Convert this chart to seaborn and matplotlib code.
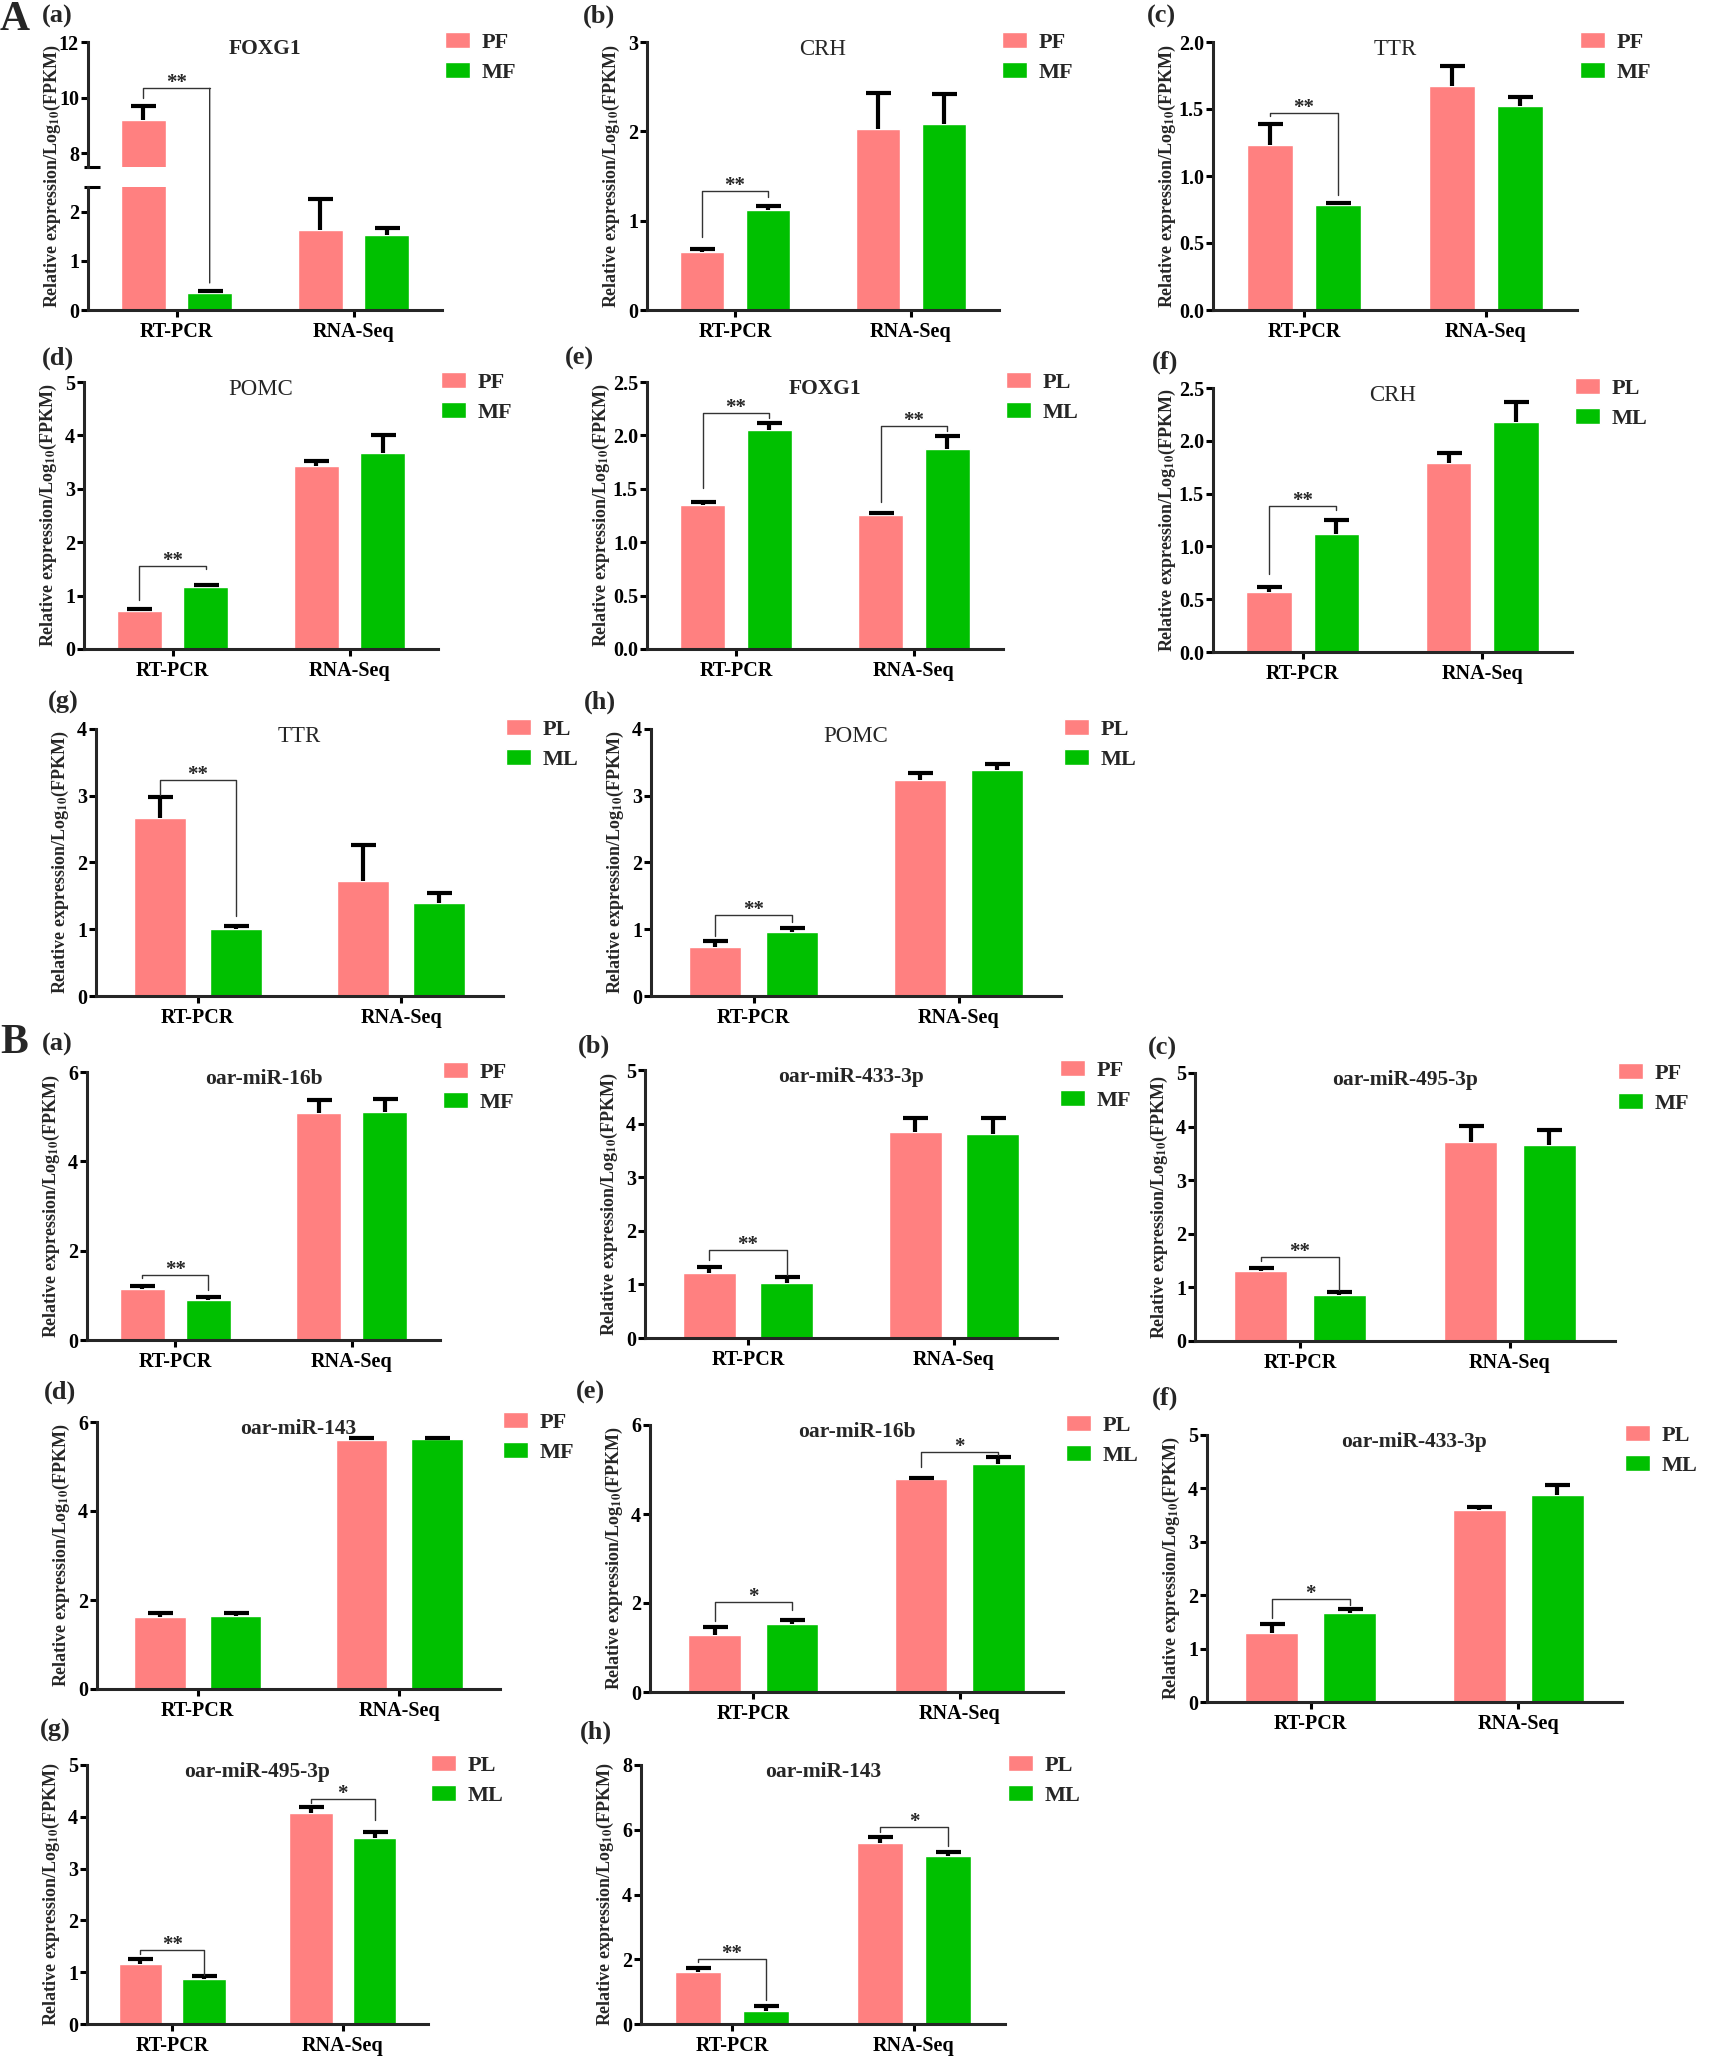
import matplotlib
matplotlib.use("Agg")
import matplotlib.pyplot as plt
from matplotlib.patches import Patch, ConnectionPatch
from matplotlib.ticker import FormatStrFormatter
from matplotlib.transforms import ScaledTranslation
import numpy as np
import pandas as pd
import seaborn as sns


# -------------------------------------------------------------------------------------------------------
# data: first = PF / PL, second = MF / ML, order = [RT-PCR, RNA-Seq]
# -------------------------------------------------------------------------------------------------------

groups = ["RT-PCR", "RNA-Seq"]
fat_labels = ["PF", "MF"]
liver_labels = ["PL", "ML"]

Aa_first = [9.20, 1.63]
Aa_first_sd = [0.50, 0.62]
Aa_second = [0.35, 1.52]
Aa_second_sd = [0.03, 0.15]
Aa_sig = [("RT-PCR", "**", 10.33, 10.0, 0.55)]

Ab_first = [0.65, 2.03]
Ab_first_sd = [0.03, 0.40]
Ab_second = [1.12, 2.08]
Ab_second_sd = [0.04, 0.34]
Ab_sig = [("RT-PCR", "**", 1.33, 0.82, 1.27)]

Ac_first = [1.23, 1.67]
Ac_first_sd = [0.16, 0.15]
Ac_second = [0.78, 1.52]
Ac_second_sd = [0.02, 0.07]
Ac_sig = [("RT-PCR", "**", 1.47, 1.45, 0.86)]

Ad_first = [0.72, 3.42]
Ad_first_sd = [0.02, 0.10]
Ad_second = [1.17, 3.67]
Ad_second_sd = [0.03, 0.33]
Ad_sig = [("RT-PCR", "**", 1.56, 0.92, 1.50)]

Ae_first = [1.35, 1.25]
Ae_first_sd = [0.03, 0.02]
Ae_second = [2.05, 1.87]
Ae_second_sd = [0.07, 0.12]
Ae_sig = [("RT-PCR", "**", 2.21, 1.51, 2.16), ("RNA-Seq", "**", 2.09, 1.38, 2.04)]

Af_first = [0.57, 1.79]
Af_first_sd = [0.05, 0.09]
Af_second = [1.12, 2.18]
Af_second_sd = [0.13, 0.19]
Af_sig = [("RT-PCR", "**", 1.38, 0.74, 1.34)]

Ag_first = [2.66, 1.73]
Ag_first_sd = [0.32, 0.53]
Ag_second = [1.01, 1.39]
Ag_second_sd = [0.04, 0.16]
Ag_sig = [("RT-PCR", "**", 3.23, 3.01, 1.20)]

Ah_first = [0.73, 3.23]
Ah_first_sd = [0.09, 0.11]
Ah_second = [0.96, 3.38]
Ah_second_sd = [0.06, 0.10]
Ah_sig = [("RT-PCR", "**", 1.22, 0.90, 1.11)]

Ba_first = [1.14, 5.08]
Ba_first_sd = [0.08, 0.29]
Ba_second = [0.89, 5.10]
Ba_second_sd = [0.07, 0.30]
Ba_sig = [("RT-PCR", "**", 1.46, 1.38, 1.12)]

Bb_first = [1.22, 3.84]
Bb_first_sd = [0.10, 0.26]
Bb_second = [1.03, 3.80]
Bb_second_sd = [0.11, 0.30]
Bb_sig = [("RT-PCR", "**", 1.64, 1.45, 1.17)]

Bc_first = [1.31, 3.72]
Bc_first_sd = [0.05, 0.29]
Bc_second = [0.85, 3.66]
Bc_second_sd = [0.07, 0.27]
Bc_sig = [("RT-PCR", "**", 1.575, 1.50, 0.95)]

Bd_first = [1.61, 5.59]
Bd_first_sd = [0.10, 0.05]
Bd_second = [1.645, 5.62]
Bd_second_sd = [0.055, 0.03]
Bd_sig = []

Be_first = [1.29, 4.78]
Be_first_sd = [0.16, 0.04]
Be_second = [1.53, 5.12]
Be_second_sd = [0.09, 0.17]
Be_sig = [("RT-PCR", "*", 2.03, 1.59, 1.85), ("RNA-Seq", "*", 5.40, 5.05, 5.33)]

Bf_first = [1.29, 3.60]
Bf_first_sd = [0.17, 0.05]
Bf_second = [1.665, 3.87]
Bf_second_sd = [0.07, 0.19]
Bf_sig = [("RT-PCR", "*", 1.93, 1.57, 1.82)]

Bg_first = [1.16, 4.07]
Bg_first_sd = [0.09, 0.11]
Bg_second = [0.87, 3.60]
Bg_second_sd = [0.05, 0.10]
Bg_sig = [("RT-PCR", "**", 1.42, 1.35, 0.95), ("RNA-Seq", "*", 4.34, 4.26, 3.94)]

Bh_first = [1.62, 5.58]
Bh_first_sd = [0.11, 0.21]
Bh_second = [0.41, 5.19]
Bh_second_sd = [0.15, 0.12]
Bh_sig = [("RT-PCR", "**", 2.00, 1.90, 0.74), ("RNA-Seq", "*", 6.10, 5.94, 5.50)]


panels = [
    dict(key="Aa", tag="(a)", title="FOXG1", bold=True, labels=fat_labels, first=Aa_first, first_sd=Aa_first_sd,
         second=Aa_second, second_sd=Aa_second_sd, sig=Aa_sig, ymax=2.5, ystep=1, fmt="%d"),
    dict(key="Ab", tag="(b)", title="CRH", bold=False, labels=fat_labels, first=Ab_first, first_sd=Ab_first_sd,
         second=Ab_second, second_sd=Ab_second_sd, sig=Ab_sig, ymax=3, ystep=1, fmt="%d"),
    dict(key="Ac", tag="(c)", title="TTR", bold=False, labels=fat_labels, first=Ac_first, first_sd=Ac_first_sd,
         second=Ac_second, second_sd=Ac_second_sd, sig=Ac_sig, ymax=2.0, ystep=0.5, fmt="%.1f"),
    dict(key="Ad", tag="(d)", title="POMC", bold=False, labels=fat_labels, first=Ad_first, first_sd=Ad_first_sd,
         second=Ad_second, second_sd=Ad_second_sd, sig=Ad_sig, ymax=5, ystep=1, fmt="%d"),
    dict(key="Ae", tag="(e)", title="FOXG1", bold=True, labels=liver_labels, first=Ae_first, first_sd=Ae_first_sd,
         second=Ae_second, second_sd=Ae_second_sd, sig=Ae_sig, ymax=2.5, ystep=0.5, fmt="%.1f"),
    dict(key="Af", tag="(f)", title="CRH", bold=False, labels=liver_labels, first=Af_first, first_sd=Af_first_sd,
         second=Af_second, second_sd=Af_second_sd, sig=Af_sig, ymax=2.5, ystep=0.5, fmt="%.1f"),
    dict(key="Ag", tag="(g)", title="TTR", bold=False, labels=liver_labels, first=Ag_first, first_sd=Ag_first_sd,
         second=Ag_second, second_sd=Ag_second_sd, sig=Ag_sig, ymax=4, ystep=1, fmt="%d"),
    dict(key="Ah", tag="(h)", title="POMC", bold=False, labels=liver_labels, first=Ah_first, first_sd=Ah_first_sd,
         second=Ah_second, second_sd=Ah_second_sd, sig=Ah_sig, ymax=4, ystep=1, fmt="%d"),
    dict(key="Ba", tag="(a)", title="oar-miR-16b", bold=True, labels=fat_labels, first=Ba_first, first_sd=Ba_first_sd,
         second=Ba_second, second_sd=Ba_second_sd, sig=Ba_sig, ymax=6, ystep=2, fmt="%d"),
    dict(key="Bb", tag="(b)", title="oar-miR-433-3p", bold=True, labels=fat_labels, first=Bb_first, first_sd=Bb_first_sd,
         second=Bb_second, second_sd=Bb_second_sd, sig=Bb_sig, ymax=5, ystep=1, fmt="%d"),
    dict(key="Bc", tag="(c)", title="oar-miR-495-3p", bold=True, labels=fat_labels, first=Bc_first, first_sd=Bc_first_sd,
         second=Bc_second, second_sd=Bc_second_sd, sig=Bc_sig, ymax=5, ystep=1, fmt="%d"),
    dict(key="Bd", tag="(d)", title="oar-miR-143", bold=True, labels=fat_labels, first=Bd_first, first_sd=Bd_first_sd,
         second=Bd_second, second_sd=Bd_second_sd, sig=Bd_sig, ymax=6, ystep=2, fmt="%d"),
    dict(key="Be", tag="(e)", title="oar-miR-16b", bold=True, labels=liver_labels, first=Be_first, first_sd=Be_first_sd,
         second=Be_second, second_sd=Be_second_sd, sig=Be_sig, ymax=6, ystep=2, fmt="%d"),
    dict(key="Bf", tag="(f)", title="oar-miR-433-3p", bold=True, labels=liver_labels, first=Bf_first, first_sd=Bf_first_sd,
         second=Bf_second, second_sd=Bf_second_sd, sig=Bf_sig, ymax=5, ystep=1, fmt="%d"),
    dict(key="Bg", tag="(g)", title="oar-miR-495-3p", bold=True, labels=liver_labels, first=Bg_first, first_sd=Bg_first_sd,
         second=Bg_second, second_sd=Bg_second_sd, sig=Bg_sig, ymax=5, ystep=1, fmt="%d"),
    dict(key="Bh", tag="(h)", title="oar-miR-143", bold=True, labels=liver_labels, first=Bh_first, first_sd=Bh_first_sd,
         second=Bh_second, second_sd=Bh_second_sd, sig=Bh_sig, ymax=8, ystep=2, fmt="%d"),
]

# axes boxes in pixels (left, top, right, bottom) and panel tag positions (left, centre y)
layout = {
    "Aa": (88, 42, 442, 310), "Ab": (647, 42, 999, 310), "Ac": (1213, 42, 1577, 310),
    "Ad": (84, 382, 438, 649), "Ae": (647, 382, 1003, 649), "Af": (1213, 388, 1572, 652),
    "Ag": (96, 729, 503, 996), "Ah": (651, 729, 1061, 996),
    "Ba": (87, 1072, 440, 1340), "Bb": (645, 1070, 1057, 1338), "Bc": (1195, 1073, 1615, 1341),
    "Bd": (97, 1422, 500, 1689), "Be": (650, 1425, 1063, 1692), "Bf": (1207, 1435, 1622, 1702),
    "Bg": (87, 1765, 428, 2024), "Bh": (641, 1765, 1005, 2024),
}
tag_pos = {
    "Aa": (42, 16), "Ab": (583, 16), "Ac": (1147, 16),
    "Ad": (42, 358), "Ae": (565, 358), "Af": (1152, 362),
    "Ag": (48, 702), "Ah": (584, 702),
    "Ba": (42, 1044), "Bb": (578, 1046), "Bc": (1148, 1048),
    "Bd": (44, 1392), "Be": (576, 1392), "Bf": (1152, 1398),
    "Bg": (40, 1730), "Bh": (580, 1732),
}

PINK = "#FF8080"
GREEN = "#00C000"
W, H = 1713, 2057

sns.set_style("ticks")
plt.rcParams["font.family"] = ["Liberation Serif", "DejaVu Serif"]
plt.rcParams["font.weight"] = "bold"
plt.rcParams["mathtext.fontset"] = "stix"
plt.rcParams["axes.linewidth"] = 2.2


def px_rect(l, t, r, b):
    return [l / W, 1 - b / H, (r - l) / W, (b - t) / H]


def bar_frame(p):
    rows = []
    for j, g in enumerate(groups):
        rows.append((g, p["labels"][0], p["first"][j], p["first_sd"][j]))
        rows.append((g, p["labels"][1], p["second"][j], p["second_sd"][j]))
    return pd.DataFrame(rows, columns=["group", "sample", "value", "sd"])


def draw_bars(ax, p):
    df = bar_frame(p)
    sns.barplot(data=df, x="group", y="value", hue="sample", order=groups, hue_order=p["labels"],
                palette=[PINK, GREEN], saturation=1, width=0.75, gap=0.32, errorbar=None,
                legend=False, ax=ax)
    centers = {}
    for lab, cont in zip(p["labels"], ax.containers):
        for g, bar in zip(groups, cont):
            centers[(g, lab)] = bar.get_x() + bar.get_width() / 2
    for _, r in df.iterrows():
        eb = ax.errorbar(centers[(r["group"], r["sample"])], r["value"], yerr=[[0], [r["sd"]]], fmt="none",
                         ecolor="black", elinewidth=3, capsize=9, capthick=3, zorder=3)
        # only the upper cap, as in the original
        for cap in eb[1]:
            if np.allclose(cap.get_ydata(), r["value"]):
                cap.set_visible(False)
    return centers


def style_axis(ax, ymax, ystep, fmt):
    ax.set_ylim(0, ymax)
    ax.set_xlim(-0.5, 1.5)
    ax.set_yticks(np.arange(0, ymax + 1e-9, ystep))
    ax.yaxis.set_major_formatter(FormatStrFormatter(fmt))
    ax.set_xlabel("")
    ax.set_ylabel("")
    for s in ["top", "right"]:
        ax.spines[s].set_visible(False)
    for s in ["left", "bottom"]:
        ax.spines[s].set_linewidth(2.2)
    ax.tick_params(axis="both", direction="out", length=5, width=2.2, labelsize=14.5, colors="black")
    ax.tick_params(axis="x", pad=3.5)
    ax.tick_params(axis="y", pad=1.5)
    for t in ax.get_xticklabels() + ax.get_yticklabels():
        t.set_fontweight("bold")


def add_legend(ax, labels):
    handles = [Patch(facecolor=PINK, label=labels[0]), Patch(facecolor=GREEN, label=labels[1])]
    off = ScaledTranslation(2 / 72, 7 / 72, fig.dpi_scale_trans)
    ax.legend(handles=handles, loc="upper left", bbox_to_anchor=(1.0, 1.0), bbox_transform=ax.transAxes + off,
              frameon=False, fontsize=16, handlelength=1.15, handleheight=0.72, handletextpad=0.5,
              labelspacing=0.4, borderaxespad=0, borderpad=0)


def add_title(ax, p):
    ax.annotate(p["title"], (0.5, 1.0), xycoords="axes fraction", xytext=(0, 2), textcoords="offset points",
                ha="center", va="top", fontsize=15.5 if p["bold"] else 16.5,
                fontweight="bold" if p["bold"] else "normal")


def draw_sig(ax, centers, labels, sig):
    for g, stars, top, lo1, lo2 in sig:
        x1 = centers[(g, labels[0])]
        x2 = centers[(g, labels[1])]
        ax.plot([x1, x1, x2, x2], [lo1, top, top, lo2], color="#333333", lw=1.0, zorder=4)
        ax.text((x1 + x2) / 2, top, stars, ha="center", va="baseline", fontsize=15, fontweight="bold")


def add_ylabel(l, t, b, gap):
    fig.text((l - gap) / W, 1 - (t + b) / 2 / H, r"Relative expression/Log$_{\mathbf{10}}$(FPKM)",
             rotation=90, ha="center", va="center", fontsize=13, fontweight="bold")


fig = plt.figure(figsize=(W / 100, H / 100), dpi=100)

for p in panels:
    l, t, r, b = layout[p["key"]]
    if p["key"] == "Aa":
        # broken y axis: 0-2.5 below, 7.5-12 above
        ax_top = fig.add_axes(px_rect(l, t, r, 167))
        ax_bot = fig.add_axes(px_rect(l, 187, r, b))
        centers = draw_bars(ax_top, p)
        draw_bars(ax_bot, p)
        style_axis(ax_bot, 2.5, 1, "%d")
        ax_bot.set_yticks([0, 1, 2])
        style_axis(ax_top, 12, 2, "%d")
        ax_top.set_ylim(7.5, 12)
        ax_top.set_yticks([8, 10, 12])
        ax_top.spines["bottom"].set_visible(False)
        ax_top.set_xticks([])
        for a, yy in [(ax_top, 0), (ax_bot, 1)]:
            a.plot([0.012], [yy], marker="_", ms=11, mew=2.2, color="black", transform=a.transAxes, clip_on=False)
        g, stars, top, lo1, lo2 = p["sig"][0]
        x1 = centers[(g, p["labels"][0])]
        x2 = centers[(g, p["labels"][1])]
        ax_top.plot([x1, x1, x2], [lo1, top, top], color="#333333", lw=1.0, zorder=4)
        con = ConnectionPatch(xyA=(x2, top), coordsA=ax_top.transData, xyB=(x2, lo2), coordsB=ax_bot.transData,
                              color="#333333", lw=1.0)
        fig.add_artist(con)
        ax_top.text((x1 + x2) / 2, top, stars, ha="center", va="baseline", fontsize=15, fontweight="bold")
        add_legend(ax_top, p["labels"])
        add_title(ax_top, p)
    else:
        ax = fig.add_axes(px_rect(l, t, r, b))
        centers = draw_bars(ax, p)
        style_axis(ax, p["ymax"], p["ystep"], p["fmt"])
        draw_sig(ax, centers, p["labels"], p["sig"])
        add_legend(ax, p["labels"])
        add_title(ax, p)
    add_ylabel(l, t, b, 46 if p["fmt"] == "%.1f" else 36)
    tx, ty = tag_pos[p["key"]]
    fig.text(tx / W, 1 - ty / H, p["tag"], ha="left", va="center", fontsize=19, fontweight="bold")

fig.text(0 / W, 1 - 20 / H, "A", ha="left", va="center", fontsize=30, fontweight="bold")
fig.text(0 / W, 1 - 1043 / H, "B", ha="left", va="center", fontsize=30, fontweight="bold")

fig.savefig("out.png", dpi=100)
